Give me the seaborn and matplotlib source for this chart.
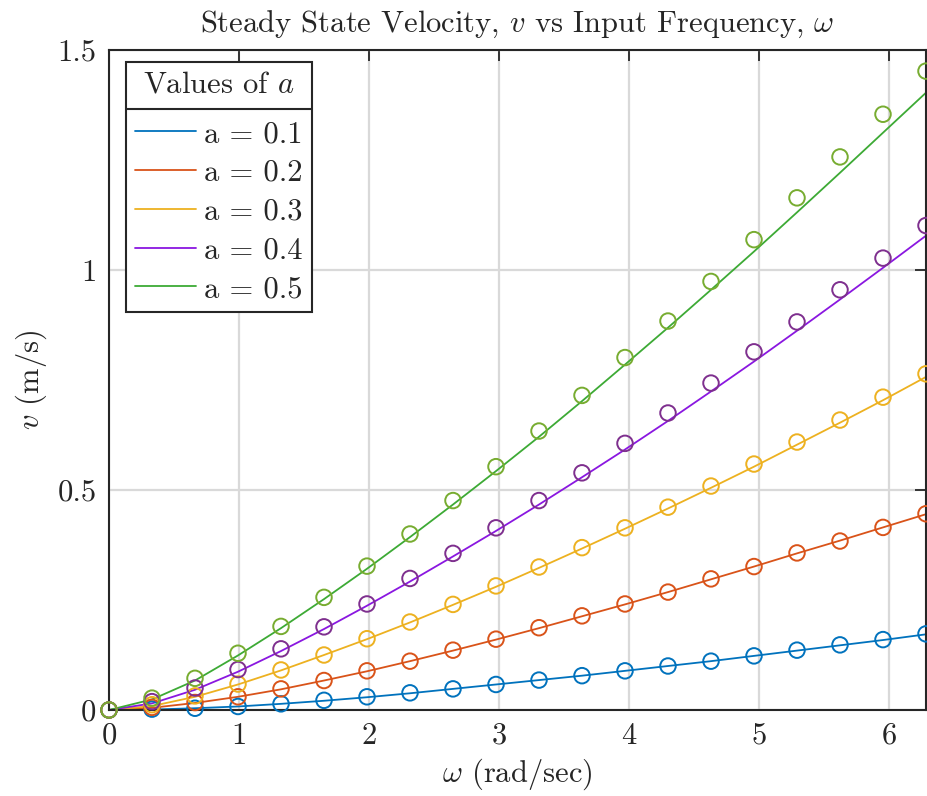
import numpy as np
import pandas as pd
import matplotlib
matplotlib.use("Agg")
import matplotlib.pyplot as plt
import seaborn as sns
from matplotlib.ticker import FuncFormatter
from matplotlib.lines import Line2D

# ---- data ----
omega = np.linspace(0, 2 * np.pi, 20)
a_labels = ["a = 0.1", "a = 0.2", "a = 0.3", "a = 0.4", "a = 0.5"]

pts_a1 = [0, 0.002, 0.004, 0.008, 0.014, 0.022, 0.030, 0.039, 0.048, 0.058, 0.068, 0.078, 0.089, 0.100, 0.111, 0.123, 0.136, 0.148, 0.160, 0.173]
pts_a2 = [0, 0.006, 0.017, 0.030, 0.048, 0.067, 0.089, 0.111, 0.136, 0.161, 0.187, 0.214, 0.241, 0.268, 0.298, 0.326, 0.357, 0.384, 0.415, 0.446]
pts_a3 = [0, 0.012, 0.032, 0.059, 0.091, 0.125, 0.162, 0.200, 0.240, 0.282, 0.325, 0.369, 0.414, 0.461, 0.509, 0.559, 0.609, 0.659, 0.711, 0.764]
pts_a4 = [0, 0.019, 0.050, 0.092, 0.139, 0.189, 0.241, 0.299, 0.356, 0.414, 0.476, 0.539, 0.606, 0.675, 0.743, 0.814, 0.882, 0.955, 1.027, 1.101]
pts_a5 = [0, 0.027, 0.072, 0.129, 0.190, 0.256, 0.327, 0.400, 0.476, 0.553, 0.634, 0.715, 0.801, 0.884, 0.974, 1.069, 1.164, 1.257, 1.354, 1.452]

fit_a1 = [0, 0.001, 0.004, 0.008, 0.014, 0.021, 0.029, 0.038, 0.048, 0.058, 0.068, 0.078, 0.089, 0.100, 0.111, 0.123, 0.135, 0.147, 0.159, 0.172]
fit_a2 = [0, 0.005, 0.016, 0.030, 0.047, 0.067, 0.088, 0.111, 0.135, 0.160, 0.186, 0.213, 0.240, 0.268, 0.297, 0.326, 0.356, 0.385, 0.415, 0.445]
fit_a3 = [0, 0.009, 0.030, 0.058, 0.090, 0.125, 0.161, 0.199, 0.239, 0.280, 0.323, 0.367, 0.412, 0.458, 0.505, 0.553, 0.603, 0.653, 0.704, 0.757]
fit_a4 = [0, 0.015, 0.046, 0.087, 0.134, 0.184, 0.237, 0.292, 0.349, 0.407, 0.467, 0.529, 0.592, 0.657, 0.724, 0.792, 0.862, 0.933, 1.005, 1.078]
fit_a5 = [0, 0.024, 0.067, 0.124, 0.186, 0.252, 0.321, 0.393, 0.467, 0.543, 0.621, 0.702, 0.785, 0.869, 0.955, 1.042, 1.131, 1.221, 1.312, 1.403]

xticks = [0, 1, 2, 3, 4, 5, 6]
yticks = [0, 0.5, 1, 1.5]

line_colors = ["#0072BD", "#D95319", "#EDB120", "#8A17E0", "#3DAA35"]
marker_colors = ["#0072BD", "#D95319", "#EDB120", "#7E2F8E", "#77AC30"]

pts = [pts_a1, pts_a2, pts_a3, pts_a4, pts_a5]
fits = [fit_a1, fit_a2, fit_a3, fit_a4, fit_a5]

df_pts = pd.DataFrame({
    "omega": np.tile(omega, 5),
    "v": np.concatenate(pts),
    "a": np.repeat(a_labels, len(omega)),
})
df_fit = pd.DataFrame({
    "omega": np.tile(omega, 5),
    "v": np.concatenate(fits),
    "a": np.repeat(a_labels, len(omega)),
})

# ---- style ----
sns.set_style("white")
plt.rcParams["font.family"] = ["serif"]
plt.rcParams["font.serif"] = ["cmr10", "DejaVu Serif"]
plt.rcParams["mathtext.fontset"] = "cm"
plt.rcParams["axes.formatter.use_mathtext"] = True
FS = 22
TXT = "#262626"

fig = plt.figure(figsize=(9.28, 7.96), dpi=100)
ax = fig.add_axes([109 / 928, 1 - 710 / 796, (926 - 109) / 928, 660 / 796])

sns.lineplot(data=df_fit, x="omega", y="v", hue="a", palette=line_colors,
             linewidth=1.3, ax=ax, legend=False, sort=False, estimator=None)
sns.scatterplot(data=df_pts, x="omega", y="v", hue="a", palette=marker_colors,
                marker="o", s=125, linewidth=1.4, ax=ax, legend=False, zorder=3)
for coll in ax.collections:
    fc = coll.get_facecolors()
    coll.set_edgecolors(fc)
    coll.set_facecolors("none")
    coll.set_clip_on(False)

ax.set_xlim(0, 2 * np.pi)
ax.set_ylim(0, 1.5)
ax.set_xticks(xticks)
ax.set_yticks(yticks)
fmt = FuncFormatter(lambda v, p: "%g" % v)
ax.xaxis.set_major_formatter(fmt)
ax.yaxis.set_major_formatter(fmt)
ax.tick_params(direction="in", length=8, width=1.3, colors=TXT,
               labelsize=FS, top=True, right=True, pad=9)
ax.grid(True, color="#D9D9D9", linewidth=1.6)
ax.set_axisbelow(True)
for sp in ax.spines.values():
    sp.set_color(TXT)
    sp.set_linewidth(1.5)

ax.set_xlabel(r"$\omega$ (rad/sec)", fontsize=FS, color=TXT, labelpad=5)
ax.set_ylabel(r"$v$ (m/s)", fontsize=FS, color=TXT, labelpad=6)
ax.set_title(r"Steady State Velocity, $v$ vs Input Frequency, $\omega$",
             fontsize=FS, color=TXT, pad=13)

handles = [Line2D([0], [0], color=c, lw=1.3) for c in line_colors]
leg = ax.legend(handles, a_labels, title=r"Values of $a$", loc="upper left",
                bbox_to_anchor=(0.021, 0.982), borderaxespad=0,
                fontsize=FS, title_fontsize=FS, frameon=True, fancybox=False,
                edgecolor=TXT, framealpha=1, handlelength=2.0,
                handletextpad=0.25, labelspacing=0.37, borderpad=0.3)
leg.get_frame().set_linewidth(1.5)
leg.get_title().set_color(TXT)
for t in leg.get_texts():
    t.set_color(TXT)
# larger gap between legend title and entries
leg._legend_box.sep = 16

fig.canvas.draw()
r = fig.canvas.get_renderer()
lb = leg.get_window_extent(r)
tb = leg.get_title().get_window_extent(r)
fb = leg.get_texts()[0].get_window_extent(r)
ysep = (tb.y0 + fb.y1) / 2 + 1
inv = fig.transFigure.inverted()
(x0f, yf) = inv.transform((lb.x0, ysep))
(x1f, _) = inv.transform((lb.x1, ysep))
fig.add_artist(Line2D([x0f, x1f], [yf, yf], transform=fig.transFigure,
                      color=TXT, lw=1.5, zorder=10))

fig.savefig("out.png", dpi=100)
